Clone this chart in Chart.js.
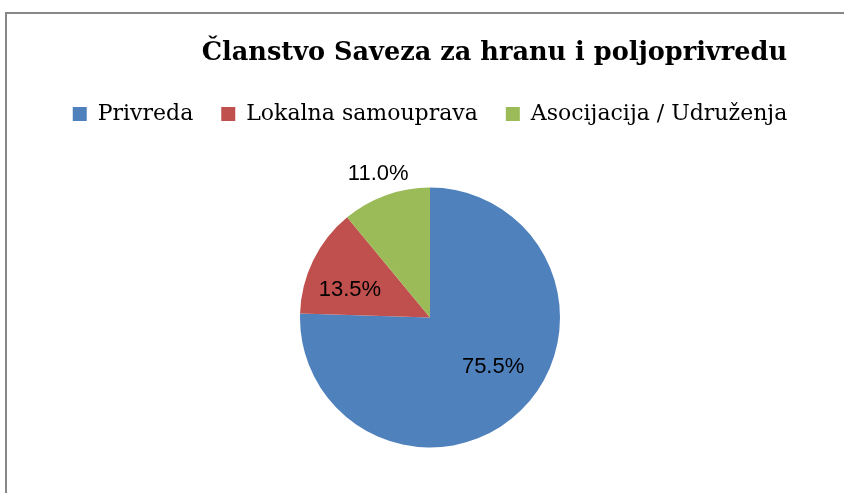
<!DOCTYPE html>
<html>
<head>
<meta charset="utf-8">
<script src="https://cdn.jsdelivr.net/npm/chart.js@4/dist/chart.umd.min.js"></script>
<style>
  html, body { margin: 0; padding: 0; background: #fff; overflow: hidden; }
  #wrap { position: relative; width: 844px; height: 493px; }
  #frame { position: absolute; left: 5px; top: 12px; width: 900px; height: 600px;
           border-left: 2px solid #878787; border-top: 2px solid #878787; }
  #Chart1 { position: absolute; left: 0; top: 0; }
</style>
</head>
<body>
<div id="wrap">
  <div id="frame"></div>
  <canvas id="Chart1" width="844" height="493"></canvas>
</div>
<script>
// data
const titleText = 'Članstvo Saveza za hranu i poljoprivredu';
const categories = ['Privreda', 'Lokalna samouprava', 'Asocijacija / Udruženja'];
const shares = [75.5, 13.5, 11.0];
const colors = ['#4F81BD', '#C0504D', '#9BBB59'];

// where each % label sits: fraction of radius, then a small nudge in px
const labelRadius = [0.62, 0.66, 1.177];
const labelNudge = [[7, -8], [-3, 10], [0, 0]];

// the title is not centred over the pie in the original, so draw it ourselves
const offsetTitle = {
  id: 'offsetTitle',
  afterDraw(chart) {
    const ctx = chart.ctx;
    ctx.save();
    ctx.font = 'bold 25.6px "DejaVu Serif", serif';
    ctx.fillStyle = '#000';
    ctx.textAlign = 'right';
    ctx.textBaseline = 'alphabetic';
    ctx.fillText(titleText, 787, 60);
    ctx.restore();
  }
};

const pieLabels = {
  id: 'pieLabels',
  afterDatasetsDraw(chart) {
    const ctx = chart.ctx;
    const meta = chart.getDatasetMeta(0);
    ctx.save();
    ctx.font = '22px "Liberation Sans", Arial, sans-serif';
    ctx.fillStyle = '#000';
    ctx.textAlign = 'center';
    ctx.textBaseline = 'middle';
    meta.data.forEach(function(arc, i) {
      const mid = (arc.startAngle + arc.endAngle) / 2;
      const r = arc.outerRadius * labelRadius[i];
      const x = arc.x + Math.cos(mid) * r + labelNudge[i][0];
      const y = arc.y + Math.sin(mid) * r + labelNudge[i][1];
      ctx.fillText(shares[i].toFixed(1) + '%', x, y);
    });
    ctx.restore();
  }
};

const ctx = document.getElementById('Chart1').getContext('2d');
const myChart = new Chart(ctx, {
  type: 'pie',
  data: {
    labels: categories,
    datasets: [{
      data: shares,
      backgroundColor: colors,
      borderWidth: 0,
      radius: 130
    }]
  },
  options: {
    responsive: false,
    animation: false,
    layout: {
      padding: { left: 40, right: 24, top: 75, bottom: 0 }
    },
    plugins: {
      title: { display: false },
      legend: {
        position: 'top',
        labels: {
          color: '#000',
          font: { family: '"DejaVu Serif", serif', size: 22 },
          boxWidth: 14,
          boxHeight: 14,
          padding: 28
        }
      },
      // empty subtitle, only used as a gap between the legend and the pie
      subtitle: {
        display: true,
        text: '',
        weight: 500,
        font: { size: 7, lineHeight: 1 },
        padding: 0
      },
      tooltip: { enabled: false }
    }
  },
  plugins: [pieLabels, offsetTitle]
});
</script>
</body>
</html>
